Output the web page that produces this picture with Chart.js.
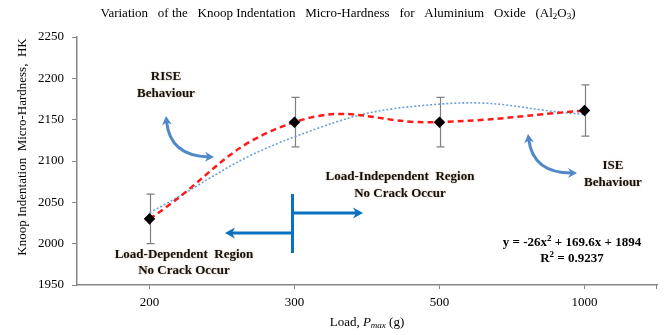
<!DOCTYPE html>
<html>
<head>
<meta charset="utf-8">
<script src="https://cdn.jsdelivr.net/npm/chart.js@4/dist/chart.umd.min.js"></script>
<style>
  html, body { margin: 0; padding: 0; background: #ffffff; }
  #wrap { width: 665px; height: 335px; position: relative; }
</style>
</head>
<body>
<div id="wrap"><canvas id="c" width="665" height="335"></canvas></div>
<script>
// Knoop micro-hardness of Al2O3 against indentation load
const loadLabels = ['200', '300', '500', '1000'];
const hardness = [2030, 2147, 2147, 2161];
const hardnessErr = [30, 30, 30, 31];
// Quadratic trendline y = a x^2 + b x + c, x = category index (1..n)
const trendCoef = [-26, 169.6, 1894];
const trendR2 = 0.9237;
const yTickValues = [1950, 2000, 2050, 2100, 2150, 2200, 2250];

const trendValues = loadLabels.map((_, i) => {
  const x = i + 1;
  return trendCoef[0] * x * x + trendCoef[1] * x + trendCoef[2];
});

const SERIF = '"Liberation Serif", "Times New Roman", serif';
const AXIS_GREY = '#868686';

// Draw a run of text pieces (with sub/superscripts) centred on x
function drawRich(ctx, parts, cx, y) {
  let total = 0;
  parts.forEach(p => { ctx.font = p.font; total += ctx.measureText(p.t).width; });
  let x = cx - total / 2;
  ctx.textAlign = 'left';
  parts.forEach(p => {
    ctx.font = p.font;
    ctx.fillText(p.t, x, y + (p.dy || 0));
    x += ctx.measureText(p.t).width;
  });
}

function arrowHead(ctx, x, y, angle, size) {
  ctx.save();
  ctx.translate(x, y);
  ctx.rotate(angle);
  ctx.beginPath();
  ctx.moveTo(0, 0);
  ctx.lineTo(-size, -size * 0.55);
  ctx.lineTo(-size * 0.7, 0);
  ctx.lineTo(-size, size * 0.55);
  ctx.closePath();
  ctx.fill();
  ctx.restore();
}

// Curved double-headed arrow (quadratic curve)
function curvedArrow(ctx, x0, y0, cx, cy, x1, y1, color) {
  ctx.save();
  ctx.strokeStyle = color;
  ctx.fillStyle = color;
  ctx.lineWidth = 3;
  ctx.lineCap = 'round';
  const a0 = Math.atan2(y0 - cy, x0 - cx);
  const a1 = Math.atan2(y1 - cy, x1 - cx);
  const s = 9;
  ctx.beginPath();
  ctx.moveTo(x0 - Math.cos(a0) * s * 0.6, y0 - Math.sin(a0) * s * 0.6);
  ctx.quadraticCurveTo(cx, cy, x1 - Math.cos(a1) * s * 0.6, y1 - Math.sin(a1) * s * 0.6);
  ctx.stroke();
  arrowHead(ctx, x0, y0, a0, s);
  arrowHead(ctx, x1, y1, a1, s);
  ctx.restore();
}

function straightArrow(ctx, x0, y0, x1, y1, color) {
  ctx.save();
  ctx.strokeStyle = color;
  ctx.fillStyle = color;
  ctx.lineWidth = 3;
  const a = Math.atan2(y1 - y0, x1 - x0);
  const s = 10;
  ctx.beginPath();
  ctx.moveTo(x0, y0);
  ctx.lineTo(x1 - Math.cos(a) * s * 0.6, y1 - Math.sin(a) * s * 0.6);
  ctx.stroke();
  arrowHead(ctx, x1, y1, a, s);
  ctx.restore();
}

const boldLabel = 'bold 13px ' + SERIF;

const decorations = {
  id: 'decorations',
  beforeDatasetsDraw(chart) {
    // error bars
    const ctx = chart.ctx;
    const xs = chart.scales.x, ys = chart.scales.y;
    ctx.save();
    ctx.strokeStyle = '#7f7f7f';
    ctx.lineWidth = 1.2;
    hardness.forEach((v, i) => {
      const px = Math.round(xs.getPixelForValue(i)) + 0.5;
      const top = ys.getPixelForValue(v + hardnessErr[i]);
      const bot = ys.getPixelForValue(v - hardnessErr[i]);
      ctx.beginPath();
      ctx.moveTo(px, top); ctx.lineTo(px, bot);
      ctx.moveTo(px - 4, top); ctx.lineTo(px + 4, top);
      ctx.moveTo(px - 4, bot); ctx.lineTo(px + 4, bot);
      ctx.stroke();
    });
    ctx.restore();
  },
  afterDraw(chart) {
    const ctx = chart.ctx;
    const area = chart.chartArea;
    ctx.save();
    ctx.fillStyle = '#000';
    ctx.textBaseline = 'middle';

    // title
    const tf = '13px ' + SERIF, tsub = '9px ' + SERIF;
    drawRich(ctx, [
      { t: 'Variation   of the   Knoop Indentation   Micro-Hardness   for   Aluminium   Oxide   (Al', font: tf },
      { t: '2', font: tsub, dy: 3 },
      { t: 'O', font: tf },
      { t: '3', font: tsub, dy: 3 },
      { t: ')', font: tf }
    ], 338, 14);

    // y axis title
    ctx.save();
    ctx.translate(23, 147);
    ctx.rotate(-Math.PI / 2);
    ctx.font = '13px ' + SERIF;
    ctx.textAlign = 'center';
    ctx.fillText('Knoop Indentation  Micro-Hardness,  HK', 0, 0);
    ctx.restore();

    // x axis title
    drawRich(ctx, [
      { t: 'Load, ', font: '13px ' + SERIF },
      { t: 'P', font: 'italic 13px ' + SERIF },
      { t: 'max', font: 'italic 9px ' + SERIF, dy: 3 },
      { t: ' (g)', font: '13px ' + SERIF }
    ], 367, 323);

    // end tick on the category axis
    ctx.strokeStyle = AXIS_GREY;
    ctx.lineWidth = 1;
    ctx.beginPath();
    ctx.moveTo(Math.round(area.right) - 0.5, area.bottom);
    ctx.lineTo(Math.round(area.right) - 0.5, area.bottom + 4);
    ctx.stroke();

    // annotation arrows
    const soft = '#5088c8';
    curvedArrow(ctx, 166, 116, 170, 156, 214, 157, soft);
    curvedArrow(ctx, 528, 134, 533, 173, 577, 173, soft);

    const strong = '#0a70c2';
    ctx.strokeStyle = strong;
    ctx.lineWidth = 3;
    ctx.beginPath();
    ctx.moveTo(292.5, 194); ctx.lineTo(292.5, 253);
    ctx.stroke();
    straightArrow(ctx, 292.5, 213, 363, 213, strong);
    straightArrow(ctx, 292.5, 233, 225, 233, strong);

    // annotation text
    ctx.shadowColor = 'rgba(170,120,60,0.55)';
    ctx.shadowBlur = 2;
    ctx.font = boldLabel;
    ctx.textAlign = 'center';
    ctx.fillStyle = '#111';
    ctx.fillText('RISE', 166, 77);
    ctx.fillText('Behaviour', 166, 94);
    ctx.fillText('ISE', 613, 166);
    ctx.fillText('Behaviour', 613, 183);
    ctx.fillText('Load-Independent  Region', 400, 177);
    ctx.fillText('No Crack Occur', 400, 194);
    ctx.fillText('Load-Dependent  Region', 184, 255);
    ctx.fillText('No Crack Occur', 184, 271);

    ctx.shadowBlur = 0;
    ctx.shadowColor = 'transparent';
    ctx.fillStyle = '#000';
    drawRich(ctx, [
      { t: 'y = ' + trendCoef[0] + 'x', font: boldLabel },
      { t: '2', font: 'bold 9px ' + SERIF, dy: -4 },
      { t: ' + ' + trendCoef[1] + 'x + ' + trendCoef[2], font: boldLabel }
    ], 572, 243);
    drawRich(ctx, [
      { t: 'R', font: boldLabel },
      { t: '2', font: 'bold 9px ' + SERIF, dy: -4 },
      { t: ' = ' + trendR2, font: boldLabel }
    ], 572, 259);

    ctx.restore();
  }
};

new Chart(document.getElementById('c'), {
  type: 'line',
  data: {
    labels: loadLabels,
    datasets: [
      {
        label: 'Hardness',
        data: hardness,
        borderColor: '#ff1a1a',
        borderWidth: 2.5,
        borderDash: [6, 4],
        tension: 0.45,
        pointStyle: 'rectRot',
        pointRadius: 4,
        pointBackgroundColor: '#000',
        pointBorderColor: '#000',
        order: 1
      },
      {
        label: 'Poly. trend',
        data: trendValues,
        borderColor: '#6f9fd8',
        borderWidth: 1.6,
        borderDash: [2, 2],
        tension: 0.45,
        pointRadius: 0,
        order: 2
      }
    ]
  },
  options: {
    responsive: false,
    animation: false,
    devicePixelRatio: 1,
    layout: { padding: { left: 0, right: 8, top: 37, bottom: 0 } },
    plugins: { legend: { display: false }, tooltip: { enabled: false }, title: { display: false } },
    scales: {
      x: {
        type: 'category',
        offset: true,
        grid: { drawOnChartArea: false, drawTicks: true, tickLength: 4, offset: false, color: AXIS_GREY },
        border: { color: AXIS_GREY, width: 1.5 },
        ticks: { color: '#000', font: { family: SERIF, size: 13 }, padding: 6, maxRotation: 0 },
        afterFit(s) { s.height = 50; }
      },
      y: {
        min: yTickValues[0],
        max: yTickValues[yTickValues.length - 1],
        afterBuildTicks(s) { s.ticks = yTickValues.map(v => ({ value: v })); },
        grid: { drawOnChartArea: false, drawTicks: true, tickLength: 5, color: AXIS_GREY },
        border: { color: AXIS_GREY, width: 1.5 },
        ticks: { color: '#000', font: { family: SERIF, size: 13 }, padding: 8, callback: v => String(v) },
        afterFit(s) { s.width = 77; }
      }
    }
  },
  plugins: [decorations]
});
</script>
</body>
</html>
